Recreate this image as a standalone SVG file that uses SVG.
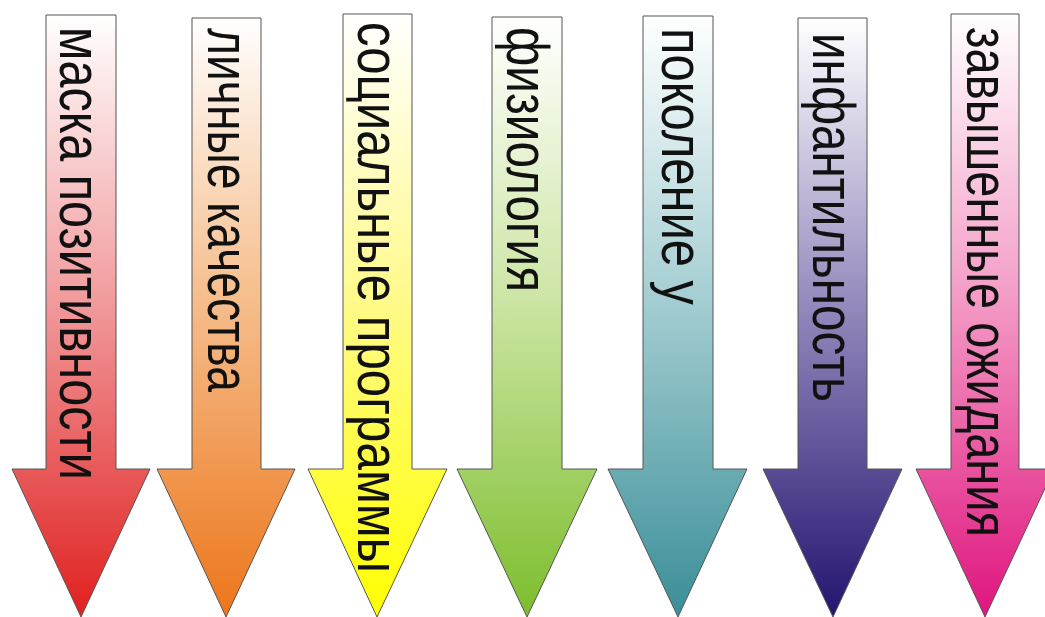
<svg xmlns="http://www.w3.org/2000/svg" width="1045" height="617" viewBox="0 0 1045 617">
<style>
.arrow{stroke:#555555;stroke-width:1;stroke-linejoin:miter}
.lbl{font-family:"Liberation Sans","DejaVu Sans",sans-serif;font-size:59px;fill:#111}
</style>
<defs>
<linearGradient id="gRed" x1="0" y1="0" x2="0" y2="1"><stop offset="0" stop-color="#ffffff"/><stop offset="0.45" stop-color="#f2a0a2"/><stop offset="1" stop-color="#e0201f"/></linearGradient>
<linearGradient id="gOrange" x1="0" y1="0" x2="0" y2="1"><stop offset="0" stop-color="#ffffff"/><stop offset="0.45" stop-color="#f6c090"/><stop offset="1" stop-color="#ec761a"/></linearGradient>
<linearGradient id="gYellow" x1="0" y1="0" x2="0" y2="1"><stop offset="0" stop-color="#ffffff"/><stop offset="0.45" stop-color="#fffa90"/><stop offset="1" stop-color="#ffff00"/></linearGradient>
<linearGradient id="gGreen" x1="0" y1="0" x2="0" y2="1"><stop offset="0" stop-color="#ffffff"/><stop offset="0.45" stop-color="#cfe6a8"/><stop offset="1" stop-color="#7cbe2c"/></linearGradient>
<linearGradient id="gTeal" x1="0" y1="0" x2="0" y2="1"><stop offset="0" stop-color="#ffffff"/><stop offset="0.45" stop-color="#a8d0d4"/><stop offset="1" stop-color="#3a8e98"/></linearGradient>
<linearGradient id="gPurple" x1="0" y1="0" x2="0" y2="1"><stop offset="0" stop-color="#ffffff"/><stop offset="0.45" stop-color="#9a90c0"/><stop offset="1" stop-color="#241470"/></linearGradient>
<linearGradient id="gPink" x1="0" y1="0" x2="0" y2="1"><stop offset="0" stop-color="#ffffff"/><stop offset="0.45" stop-color="#f4a0c8"/><stop offset="1" stop-color="#e0147e"/></linearGradient>
</defs>
<g id="arrow-mask">
<polygon class="arrow" fill="url(#gRed)" points="46,15 116,15 116,469 150,469 81,617 12,469 46,469"/>
<text class="lbl" transform="translate(60,27) rotate(90)" textLength="453" lengthAdjust="spacingAndGlyphs">маска позитивности</text>
</g>
<g id="arrow-personal">
<polygon class="arrow" fill="url(#gOrange)" points="192,18 261,18 261,469 295,469 226,617 157,469 192,469"/>
<text class="lbl" transform="translate(208,28) rotate(90)" textLength="364" lengthAdjust="spacingAndGlyphs">личные качества</text>
</g>
<g id="arrow-social">
<polygon class="arrow" fill="url(#gYellow)" points="343,14 412,14 412,469 447,469 377,617 308,469 343,469"/>
<text class="lbl" transform="translate(358,22) rotate(90)" textLength="551" lengthAdjust="spacingAndGlyphs">социальные программы</text>
</g>
<g id="arrow-physio">
<polygon class="arrow" fill="url(#gGreen)" points="492,17 562,17 562,469 597,469 527,617 457,469 492,469"/>
<text class="lbl" transform="translate(507,27) rotate(90)" textLength="265" lengthAdjust="spacingAndGlyphs">физиология</text>
</g>
<g id="arrow-generation">
<polygon class="arrow" fill="url(#gTeal)" points="643,16 713,16 713,469 747,469 678,617 608,469 643,469"/>
<text class="lbl" transform="translate(662,28) rotate(90)" textLength="277" lengthAdjust="spacingAndGlyphs">поколение у</text>
</g>
<g id="arrow-infantility">
<polygon class="arrow" fill="url(#gPurple)" points="798,18 867,18 867,469 902,469 833,617 763,469 798,469"/>
<text class="lbl" transform="translate(813,33) rotate(90)" textLength="369" lengthAdjust="spacingAndGlyphs">инфантильность</text>
</g>
<g id="arrow-expectations">
<polygon class="arrow" fill="url(#gPink)" points="951,14 1019,14 1019,469 1054,469 985,617 916,469 951,469"/>
<text class="lbl" transform="translate(967,27) rotate(90)" textLength="510" lengthAdjust="spacingAndGlyphs">завышенные ожидания</text>
</g>
</svg>
